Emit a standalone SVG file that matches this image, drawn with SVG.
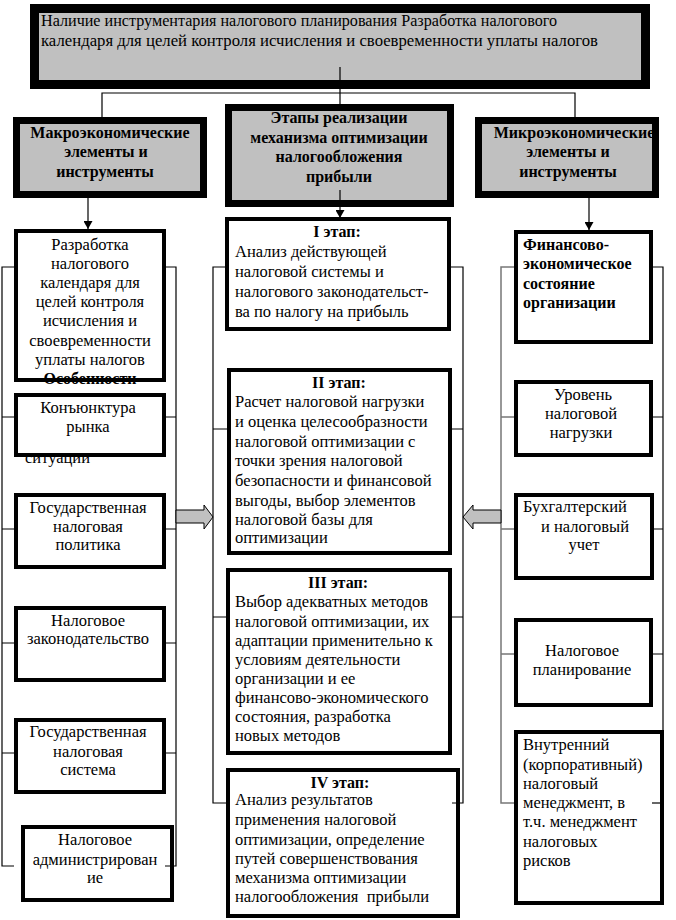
<svg xmlns="http://www.w3.org/2000/svg" width="676" height="920" viewBox="0 0 676 920">
<defs>
<style>
text{font-family:"Liberation Serif","Times New Roman",serif;font-size:16.5px;fill:#000}
.b{font-weight:bold;font-size:16px}
.c{text-anchor:middle}
.hdr{fill:#c0c0c0;stroke:#000;stroke-width:7}
.top{fill:#c0c0c0;stroke:#000;stroke-width:9}
.box{fill:#fff;stroke:#000;stroke-width:4}
.ln{stroke:#000;stroke-width:1.2;fill:none}
.lg{stroke:#777;stroke-width:1.5;fill:none}
.big{fill:#c0c0c0;stroke:#000;stroke-width:1}
</style>
<marker id="ah" markerWidth="8" markerHeight="9" refX="8" refY="4.5" orient="auto" markerUnits="userSpaceOnUse"><path d="M0,0 L8,4.5 L0,9 z" fill="#000"/></marker>
</defs>
<rect width="676" height="920" fill="#fff"/>

<g id="top">
<rect class="top" x="34.5" y="8.5" width="611" height="76"/>
<text x="41" y="26" textLength="516" lengthAdjust="spacingAndGlyphs">Наличие инструментария налогового планирования Разработка налогового</text>
<text x="41" y="46" textLength="557" lengthAdjust="spacingAndGlyphs">календаря для целей контроля исчисления и своевременности уплаты налогов</text>
</g>

<g id="macro">
<rect class="hdr" x="16.5" y="120.5" width="187" height="74"/>
<text class="b c" x="110" y="138">Макроэкономические</text>
<text class="b c" x="106" y="157">элементы и</text>
<text class="b c" x="105" y="177">инструменты</text>
</g>

<g id="stages">
<rect class="hdr" x="228.5" y="107.5" width="222" height="96"/>
<text class="b c" x="339" y="123">Этапы реализации</text>
<text class="b c" x="339" y="143">механизма оптимизации</text>
<text class="b c" x="339" y="162">налогообложения</text>
<text class="b c" x="339" y="182">прибыли</text>
</g>

<g id="micro">
<rect class="hdr" x="478.5" y="120.5" width="177" height="74"/>
<text class="b c" x="574" y="138">Микроэкономические</text>
<text class="b c" x="568" y="157">элементы и</text>
<text class="b c" x="568" y="177">инструменты</text>
</g>

<g id="l1">
<rect class="box" x="16" y="231" width="148" height="149"/>
<text class="c" x="90" y="250">Разработка</text>
<text class="c" x="90" y="269">налогового</text>
<text class="c" x="90" y="288">календаря для</text>
<text class="c" x="90" y="307">целей контроля</text>
<text class="c" x="90" y="326">исчисления и</text>
<text class="c" x="90" y="346">своевременности</text>
<text class="c" x="90" y="365">уплаты налогов</text>
<text class="b c" x="90" y="384">Особенности</text>
</g>

<g id="l2">
<text x="25" y="463">ситуации</text>
<rect class="box" x="16" y="395" width="148" height="60"/>
<text class="c" x="88" y="413">Конъюнктура</text>
<text class="c" x="88" y="432">рынка</text>
</g>

<g id="l3">
<rect class="box" x="16" y="495" width="148" height="72"/>
<text class="c" x="88" y="513">Государственная</text>
<text class="c" x="88" y="532">налоговая</text>
<text class="c" x="88" y="550">политика</text>
</g>

<g id="l4">
<rect class="box" x="16" y="608" width="148" height="72"/>
<text class="c" x="88" y="626">Налоговое</text>
<text class="c" x="88" y="644">законодательство</text>
</g>

<g id="l5">
<rect class="box" x="16" y="720" width="148" height="72"/>
<text class="c" x="88" y="737">Государственная</text>
<text class="c" x="88" y="757">налоговая</text>
<text class="c" x="88" y="775">система</text>
</g>

<g id="l6">
<rect class="box" x="23" y="827" width="149" height="73"/>
<text class="c" x="95" y="845">Налоговое</text>
<text class="c" x="95" y="865">администрирован</text>
<text class="c" x="95" y="883">ие</text>
</g>

<g id="s1">
<rect class="box" x="227" y="219" width="222" height="110"/>
<text class="b c" x="337" y="237">I этап:</text>
<text x="235" y="257">Анализ действующей</text>
<text x="235" y="277">налоговой системы и</text>
<text x="235" y="297">налогового законодательст-</text>
<text x="235" y="317">ва по налогу на прибыль</text>
</g>

<g id="s2">
<rect class="box" x="229" y="370" width="221" height="183"/>
<text class="b c" x="339" y="388">II этап:</text>
<text x="235" y="407">Расчет налоговой нагрузки</text>
<text x="235" y="427">и оценка целесообразности</text>
<text x="235" y="447">налоговой оптимизации с</text>
<text x="235" y="466">точки зрения налоговой</text>
<text x="235" y="486">безопасности и финансовой</text>
<text x="235" y="506">выгоды, выбор элементов</text>
<text x="235" y="525">налоговой базы для</text>
<text x="235" y="543">оптимизации</text>
</g>

<g id="s3">
<rect class="box" x="228" y="570" width="222" height="183"/>
<text class="b c" x="338" y="588">III этап:</text>
<text x="235" y="607">Выбор адекватных методов</text>
<text x="235" y="627">налоговой оптимизации, их</text>
<text x="235" y="646">адаптации применительно к</text>
<text x="235" y="665">условиям деятельности</text>
<text x="235" y="684">организации и ее</text>
<text x="235" y="703">финансово-экономического</text>
<text x="235" y="722">состояния, разработка</text>
<text x="235" y="741">новых методов</text>
</g>

<g id="s4">
<rect class="box" x="228" y="770" width="230" height="146"/>
<text class="b c" x="340" y="788">IV этап:</text>
<text x="235" y="805">Анализ результатов</text>
<text x="235" y="825">применения налоговой</text>
<text x="235" y="845">оптимизации, определение</text>
<text x="235" y="864">путей совершенствования</text>
<text x="235" y="883">механизма оптимизации</text>
<text x="235" y="902" xml:space="preserve">налогообложения  прибыли</text>
</g>

<g id="r1">
<rect class="box" x="516" y="232" width="135" height="110"/>
<text class="b" x="523" y="250">Финансово-</text>
<text class="b" x="523" y="269">экономическое</text>
<text class="b" x="523" y="289">состояние</text>
<text class="b" x="523" y="308">организации</text>
</g>

<g id="r2">
<rect class="box" x="516" y="382" width="135" height="73"/>
<text class="c" x="583" y="400">Уровень</text>
<text class="c" x="581" y="419">налоговой</text>
<text class="c" x="581" y="438">нагрузки</text>
</g>

<g id="r3">
<rect class="box" x="516" y="495" width="136" height="83"/>
<text x="523" y="512">Бухгалтерский</text>
<text class="c" x="585" y="532">и налоговый</text>
<text class="c" x="584" y="550">учет</text>
</g>

<g id="r4">
<rect class="box" x="516" y="620" width="135" height="85"/>
<text class="c" x="582" y="656">Налоговое</text>
<text class="c" x="582" y="675">планирование</text>
</g>

<g id="connectors">
<path class="ln" d="M340,67 V104 M102,117 V93 H575 V117"/>
<line class="ln" x1="88" y1="198" x2="88" y2="229" marker-end="url(#ah)"/>
<line class="ln" x1="340" y1="190" x2="340" y2="218" marker-end="url(#ah)"/>
<line class="ln" x1="589" y1="198" x2="589" y2="230" marker-end="url(#ah)"/>
<path class="ln" d="M14,267 H2 V866 H14 M14,417 H2 M14,529 H2 M14,643 H2 M14,753 H2"/>
<path class="ln" d="M165,267 H176 V866 H165 M165,417 H176 M165,529 H176 M165,643 H176 M165,753 H176"/>
<path class="ln" d="M225,267 H213 V803 H226 M227,429 H213 M226,617 H213"/>
<path class="ln" d="M451,267 H463 V803 H452 M452,429 H463 M452,617 H463"/>
<path class="lg" d="M514,267 H501 V803 H514 M514,417 H501 M514,529 H501 M514,654 H501"/>
<path class="ln" d="M653,267 H663 V803 H652 M653,417 H663 M654,529 H663 M653,654 H663"/>
<polygon class="big" points="176,510 204,510 204,505 213,517 204,529 204,523 176,523"/>
<polygon class="big" points="501,510 473,510 473,505 463,517 473,529 473,523 501,523"/>
</g>

<g id="r5">
<rect class="box" x="516" y="732" width="146" height="171"/>
<text x="523" y="750">Внутренний</text>
<text x="523" y="770">(корпоративный)</text>
<text x="523" y="789">налоговый</text>
<text x="523" y="808">менеджмент, в</text>
<text x="523" y="827">т.ч. менеджмент</text>
<text x="523" y="847">налоговых</text>
<text x="523" y="866">рисков</text>
<line class="ln" x1="652" y1="803" x2="662" y2="803"/>
</g>
</svg>
